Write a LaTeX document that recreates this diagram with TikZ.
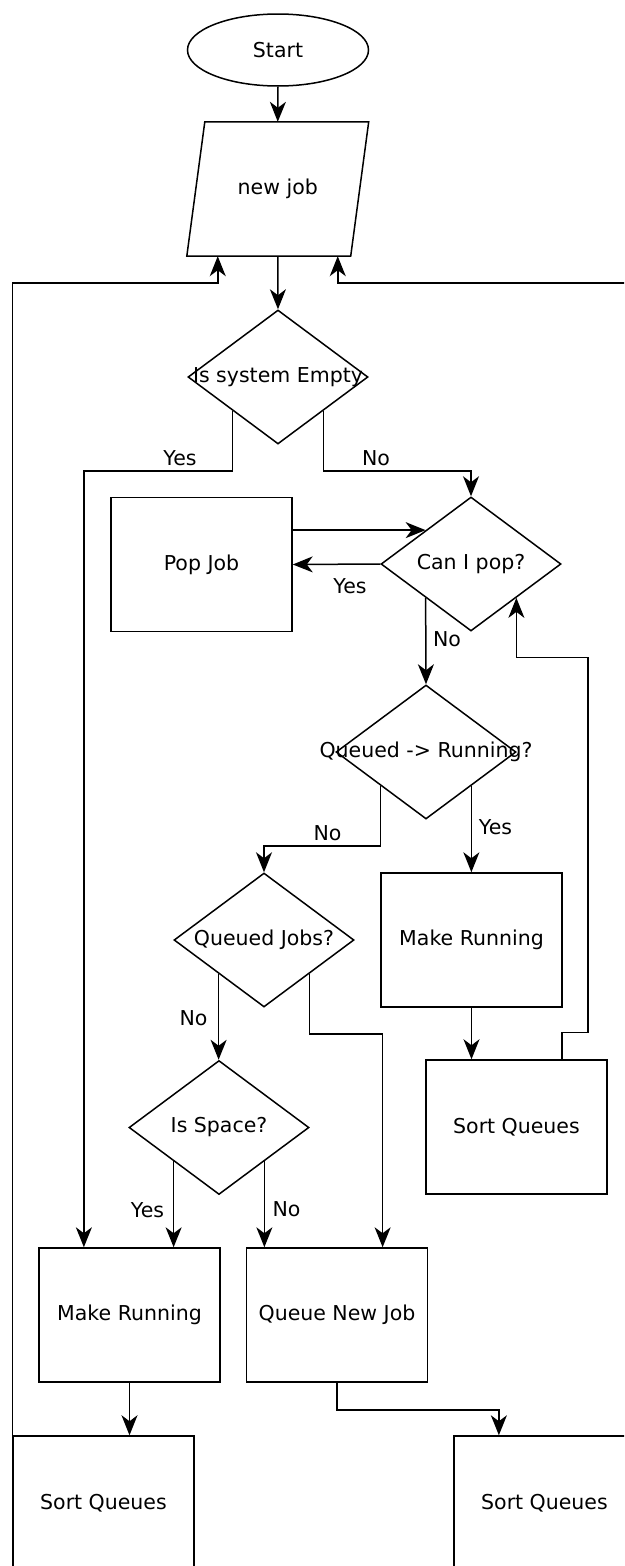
\documentclass[tikz,border=0pt]{standalone}
\usepackage{fontspec}
\setmainfont{DejaVu Sans}
\usetikzlibrary{shapes.geometric,arrows.meta,calc}
\begin{document}
\begin{tikzpicture}[x=1pt,y=-1pt,
  every node/.style={font=\fontsize{20.5}{24}\selectfont},
  box/.style={draw, line width=1.5pt, minimum width=181pt, minimum height=134pt, inner sep=0pt},
  dia/.style={draw, shape=diamond, line width=1.5pt, minimum width=180pt, minimum height=134pt, inner sep=0pt},
  term/.style={draw, ellipse, line width=1.5pt, minimum width=181pt, minimum height=72pt, inner sep=0pt},
  lbl/.style={inner sep=0pt},
  conn/.style={line width=1.5pt, -{Stealth[length=20pt,width=16pt,inset=6pt]}},
  plain/.style={line width=1.5pt}]
\useasboundingbox (0,0) rectangle (624,1566);
\clip (0,0) rectangle (624,1566);

% nodes
\node[term] (start) at (278,50) {Start};
\node[minimum width=181.5pt, minimum height=134pt, inner sep=0pt] (nj) at (277.75,189) {new job};
\draw[plain] (nj.south west) -- ($(nj.north west)+(18,0)$) -- (nj.north east) -- ($(nj.south east)+(-18,0)$) -- cycle;
\node[dia, label=center:{Is system Empty}] (d1) at (278,377) {};
\node[dia, label=center:{Can I pop?}] (cp) at (471,564) {};
\node[box] (pop) at (201.5,564.5) {Pop Job};
\node[dia, label=center:{Queued -> Running?}] (qr) at (426,752) {};
\node[box] (mrR) at (471.5,940) {Make Running};
\node[dia, label=center:{Queued Jobs?}] (qj) at (264,940) {};
\node[box] (sqR) at (516.5,1127) {Sort Queues};
\node[dia, label=center:{Is Space?}] (is) at (219,1127.5) {};
\node[box] (mrL) at (129.5,1315) {Make Running};
\node[box] (qnj) at (337,1315) {Queue New Job};
\node[box] (lsort) at (103.5,1503) {Sort Queues};
\node[box] (rsort) at (544.5,1503) {Sort Queues};

% helper coordinates
\coordinate (lA) at ($(nj.south)+(-60,27)$);
\coordinate (rA) at ($(nj.south)+(60,27)$);
\coordinate (mrLq) at ($(mrL.north west)!0.25!(mrL.north east)$);
\coordinate (sqRq) at ($(sqR.north west)!0.75!(sqR.north east)$);
\coordinate (qnjq) at ($(qnj.north west)!0.75!(qnj.north east)$);
\coordinate (rsortq) at ($(rsort.north west)!0.25!(rsort.north east)$);

% connectors
\draw[conn] (start.south) -- (nj.north);
\draw[conn] (nj.south) -- (d1.north);
\draw[conn] (d1.south west) -- ++(0,60) -| (mrLq);
\draw[conn] (d1.south east) -- ++(0,60) -| (cp.north);
\draw[conn] (pop.east |- cp.north west) -- (cp.north west);
\draw[conn] (cp.west) -- (pop.east);
\draw[conn] (cp.south west) -- (qr.north);
\draw[conn] (qr.south west) -- ++(0,60) -| (qj.north);
\draw[conn] (qr.south east) -- (qr.south east |- mrR.north);
\draw[conn] (mrR.south) -- (mrR.south |- sqR.north);
\draw[conn] (sqRq) -- ++(0,-27) -| ++(26,-375) -| (cp.south east);
\draw[conn] (qj.south west) -- (qj.south west |- is.north);
\draw[conn] (qj.south east) -- ++(0,60) -| (qnjq);
\draw[conn] (is.south west) -- (is.south west |- mrL.north);
\draw[conn] (is.south east) -- (is.south east |- qnj.north);
\draw[conn] (mrL.south) -- (mrL.south |- lsort.north);
\draw[conn] (qnj.south) -- ++(0,27) -| (rsortq);
\draw[conn] (lsort.west) |- (lA) -- (nj.south -| lA);
\draw[conn] (rsort.east) |- (rA) -- (nj.south -| rA);

% edge labels
\node[lbl] (y1) at (180,458) {Yes};
\node[lbl] (n1) at (376,458) {No};
\node[lbl] (y2) at (350,586) {Yes};
\node[lbl] (n2) at (447,639) {No};
\node[lbl] (n3) at (327.5,833) {No};
\node[lbl] (y3) at (495.5,827) {Yes};
\node[lbl] (n4) at (193.5,1018) {No};
\node[lbl] (y4) at (147.5,1210) {Yes};
\node[lbl] (n5) at (286.5,1209) {No};
\end{tikzpicture}
\end{document}
